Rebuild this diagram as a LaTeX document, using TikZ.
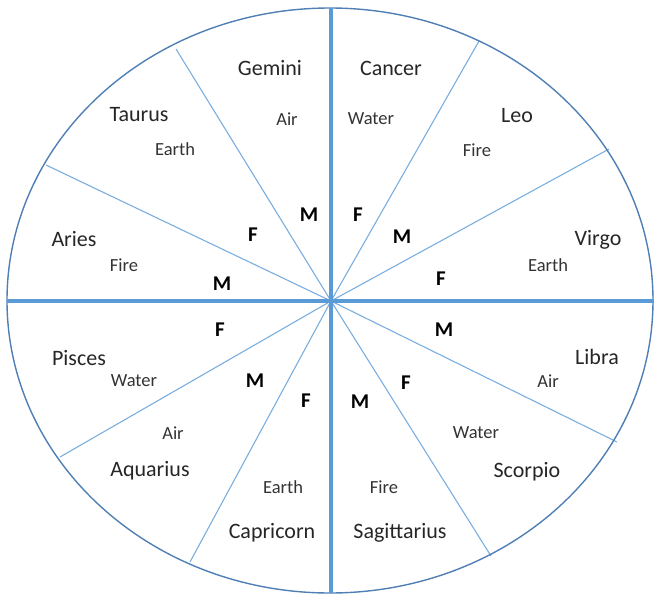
\documentclass[tikz,border=0pt]{standalone}
\usepackage{fontspec}
\setmainfont{Carlito}
\definecolor{thickblue}{HTML}{5B9BD5}
\definecolor{thinblue}{HTML}{7AAEDF}
\definecolor{rimblue}{HTML}{4F7FB5}
\begin{document}
\begin{tikzpicture}[x=1pt,y=-1pt,
  sign/.style={font=\fontsize{22}{24}\selectfont, text=black!85, inner sep=0pt},
  elem/.style={font=\fontsize{18.5}{20}\selectfont, text=black!80, inner sep=0pt},
  mf/.style={font=\fontsize{21}{23}\selectfont\bfseries, text=black, inner sep=0pt},
  thick axis/.style={draw=thickblue, line width=4pt},
  spoke/.style={draw=thinblue, line width=1.1pt},
  rim/.style={draw=rimblue, line width=1.4pt}]
\useasboundingbox (0,0) rectangle (654,595);
\coordinate (O) at (331,301);
\coordinate (top) at (331,8);
\coordinate (bot) at (331,593);
\coordinate (lft) at (7,301);
\coordinate (rgt) at (654,301);
\coordinate (p1) at (176,49);
\coordinate (p2) at (46,165);
\coordinate (p3) at (479,41);
\coordinate (p4) at (609,149);
\coordinate (p5) at (60,457);
\coordinate (p6) at (190,562);
\coordinate (p7) at (617,442);
\coordinate (p8) at (491,556);
\foreach \p in {p1,p2,p3,p4,p5,p6,p7,p8} \draw[spoke] (O) -- (\p);
\draw[rim] (330,300.5) ellipse [x radius=323, y radius=292.5];
\draw[thick axis] (top) -- (bot);
\draw[thick axis] (lft) -- (rgt);
% signs
\node[sign] (gemini) at (270,68) {Gemini};
\node[elem] (geminiE) at (287,119) {Air};
\node[sign] (taurus) at (139,115) {Taurus};
\node[elem] (taurusE) at (175,149) {Earth};
\node[sign] (aries) at (74,239) {Aries};
\node[elem] (ariesE) at (124,265) {Fire};
\node[sign] (cancer) at (391,68) {Cancer};
\node[elem] (cancerE) at (371,119) {Water};
\node[sign] (leo) at (517,116) {Leo};
\node[elem] (leoE) at (477,150) {Fire};
\node[sign] (virgo) at (598,240) {Virgo};
\node[elem] (virgoE) at (548,265) {Earth};
\node[sign] (pisces) at (79,358) {Pisces};
\node[elem] (piscesE) at (134,381) {Water};
\node[elem] (aquariusE) at (173,433) {Air};
\node[sign] (aquarius) at (150,471) {Aquarius};
\node[elem] (capricornE) at (283,487) {Earth};
\node[sign] (capricorn) at (272,533) {Capricorn};
\node[sign] (libra) at (597,357) {Libra};
\node[elem] (libraE) at (548,381) {Air};
\node[elem] (scorpioE) at (476,433) {Water};
\node[sign] (scorpio) at (527,472) {Scorpio};
\node[elem] (sagittariusE) at (384,487) {Fire};
\node[sign] (sagittarius) at (400,533) {Sagittarius};
% M / F
\node[mf] (m1) at (309,215) {M};
\node[mf] (f1) at (253,235) {F};
\node[mf] (m2) at (222,284) {M};
\node[mf] (f2) at (358,215) {F};
\node[mf] (m3) at (402,237) {M};
\node[mf] (f3) at (441,279) {F};
\node[mf] (f4) at (220,330) {F};
\node[mf] (m4) at (255,381) {M};
\node[mf] (f5) at (306,401) {F};
\node[mf] (m5) at (444,330) {M};
\node[mf] (f6) at (406,383) {F};
\node[mf] (m6) at (360,402) {M};
\end{tikzpicture}
\end{document}
